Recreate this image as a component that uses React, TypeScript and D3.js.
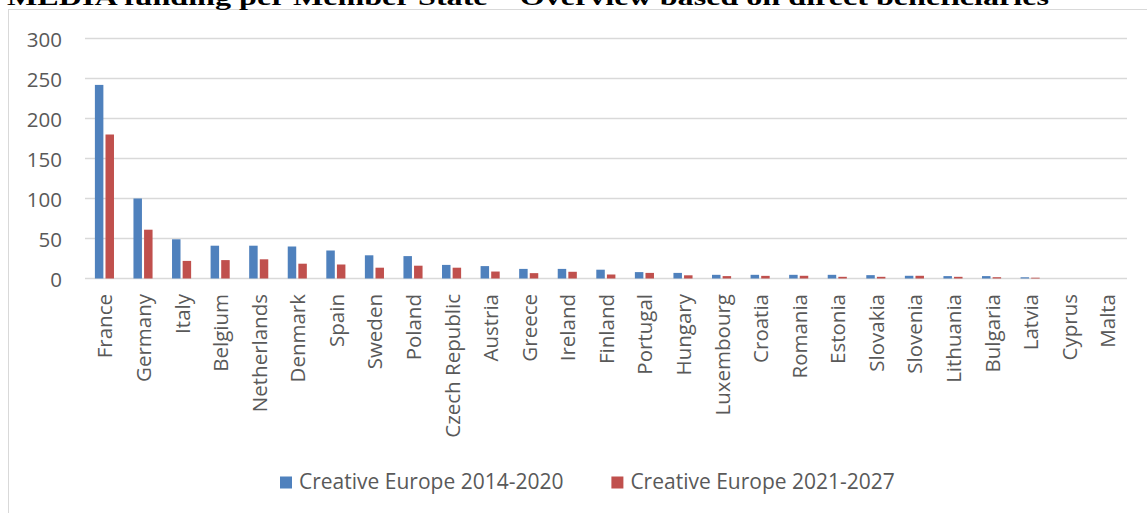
import React from "react";
import * as d3 from "d3";

const categories = ["France","Germany","Italy","Belgium","Netherlands","Denmark","Spain","Sweden","Poland","Czech Republic","Austria","Greece","Ireland","Finland","Portugal","Hungary","Luxembourg","Croatia","Romania","Estonia","Slovakia","Slovenia","Lithuania","Bulgaria","Latvia","Cyprus","Malta"];
const ce2014 = [242,100,49,41,41,40,35,29,28,17,15.5,12,12,11,8,7,4.6,4.6,4.6,4.6,4.2,3.4,3,3,1.5,0,0];
const ce2021 = [180,61,22,23,24,18.5,17.5,13.5,16,13.5,8.7,6.7,8.4,5,7,4,3,3.3,3.4,2.1,2.1,3.4,2.1,1.6,1,0,0];
const seriesNames = ["Creative Europe 2014-2020","Creative Europe 2021-2027"];
const seriesColors = ["#4F81BD","#C0504D"];
const yTicks = [0,50,100,150,200,250,300];
const title = "MEDIA funding per Member State \u2013 Overview based on direct beneficiaries";

export default function App() {
  const W = 1147, H = 513;
  const x0 = d3.scaleBand<string>().domain(categories).range([85.2, 1126.6]).paddingInner(0).paddingOuter(0);
  const x1 = d3.scaleBand<string>().domain(seriesNames).range([-9.6, 9.5]).paddingInner(0.2).paddingOuter(0);
  const y = d3.scaleLinear().domain([0, 300]).range([278.5, 38.5]);
  const values = [ce2014, ce2021];
  const textColor = "#595959";
  const font = "'Open Sans', sans-serif";
  const legendX = [280, 611.4];
  return (
    <svg width={W} height={H} style={{ position: "absolute", left: 0, top: 0, background: "#fff" }}>
      <rect x={8.5} y={9.5} width={1200} height={600} fill="#fff" stroke="#d9d9d9" strokeWidth={1} />
      <text x={7} y={5} fontFamily="'Liberation Serif', 'Times New Roman', serif" fontWeight="bold" fontSize={24} fill="#000" textLength={1042} lengthAdjust="spacingAndGlyphs">{title}</text>
      {yTicks.map((t) => (
        <g key={t}>
          <line x1={85} x2={1127} y1={y(t)} y2={y(t)} stroke="#d9d9d9" strokeWidth={1.4} />
          <text x={62} y={y(t)} textAnchor="end" dominantBaseline="central" fontFamily={font} fontSize={20.5} fill={textColor}>{t}</text>
        </g>
      ))}
      {categories.map((c, i) => {
        const cx = (x0(c) as number) + x0.bandwidth() / 2;
        return (
          <g key={c}>
            {seriesNames.map((s, k) => {
              const v = values[k][i];
              if (v <= 0) return null;
              return (
                <rect key={s} x={cx + (x1(s) as number)} width={x1.bandwidth()} y={y(v)} height={y(0) - y(v)} fill={seriesColors[k]} />
              );
            })}
            <text transform={`translate(${cx + 8},294) rotate(-90)`} textAnchor="end" fontFamily={font} fontSize={20.5} fill={textColor}>{c}</text>
          </g>
        );
      })}
      {seriesNames.map((s, k) => (
        <g key={s}>
          <rect x={legendX[k]} y={476.5} width={12} height={12} fill={seriesColors[k]} />
          <text x={legendX[k] + 19} y={489} fontFamily={font} fontSize={21} fill={textColor}>{s}</text>
        </g>
      ))}
    </svg>
  );
}
